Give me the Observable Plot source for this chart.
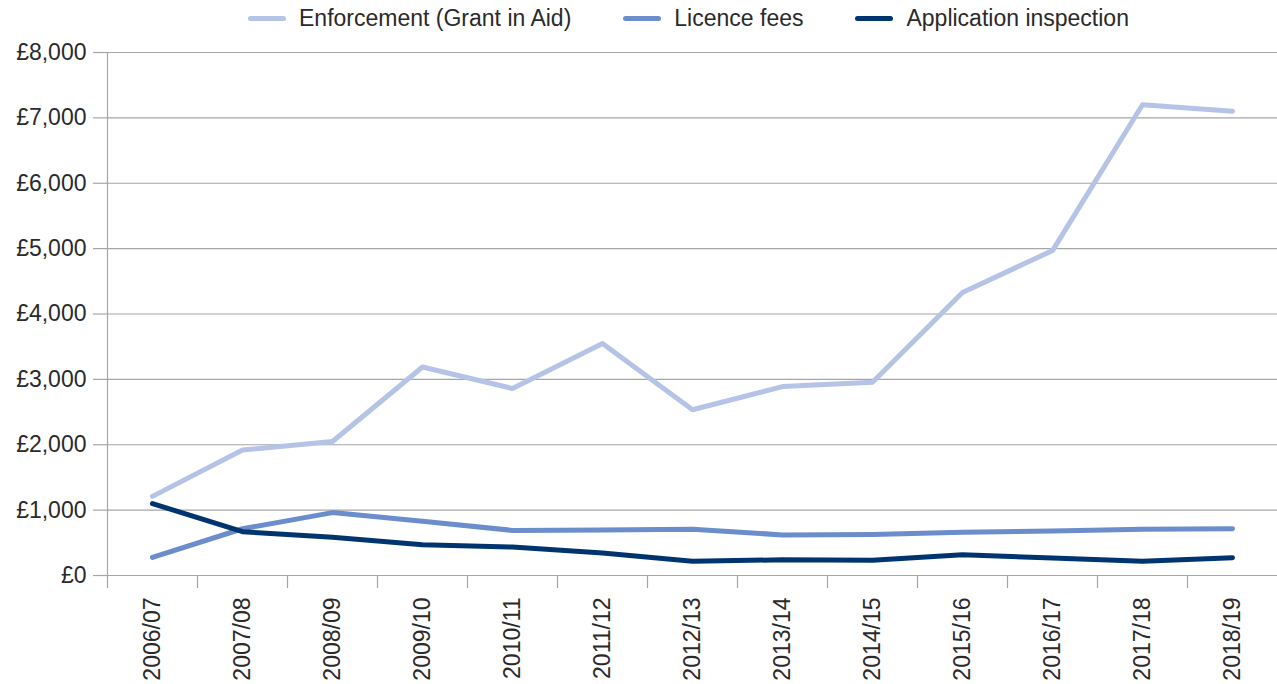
<!DOCTYPE html>
<html>
<head>
<meta charset="utf-8">
<script src="https://cdn.jsdelivr.net/npm/d3@7"></script>
<script src="https://cdn.jsdelivr.net/npm/@observablehq/plot@0.6"></script>
<style>
  body { margin: 0; background: #fff; font-family: "Liberation Sans", Arial, sans-serif; }
  #legend { display: flex; justify-content: center; align-items: center; height: 36px; padding-left: 100px; gap: 52px; font-size: 23px; color: #2a2a2a; }
  .item { display: flex; align-items: center; gap: 13px; white-space: nowrap; }
  .swatch { width: 38px; height: 5px; border-radius: 3px; }
</style>
</head>
<body>
<div id="legend"></div>
<div id="chart"></div>
<script>
// Financial years on the x axis
const years = ["2006/07", "2007/08", "2008/09", "2009/10", "2010/11", "2011/12", "2012/13",
               "2013/14", "2014/15", "2015/16", "2016/17", "2017/18", "2018/19"];

// Funding by source (£)
const enforcement = [1210, 1920, 2050, 3190, 2860, 3550, 2535, 2890, 2955, 4330, 4970, 7200, 7100];
const licenceFees = [277, 715, 962, 830, 690, 697, 707, 621, 628, 662, 682, 707, 717];
const applicationInspection = [1100, 670, 585, 470, 435, 344, 217, 240, 232, 318, 268, 217, 272];

const seriesNames = ["Enforcement (Grant in Aid)", "Licence fees", "Application inspection"];
const seriesColors = ["#b4c3e6", "#6b8dcb", "#00346f"];
const seriesValues = [enforcement, licenceFees, applicationInspection];

// Y axis ticks
const yTicks = [0, 1000, 2000, 3000, 4000, 5000, 6000, 7000, 8000];

const rows = seriesNames.flatMap((name, i) =>
  years.map((year, j) => ({series: name, year, value: seriesValues[i][j]})));

// Legend
const legend = document.getElementById("legend");
seriesNames.forEach((name, i) => {
  const item = document.createElement("div");
  item.className = "item";
  const sw = document.createElement("div");
  sw.className = "swatch";
  sw.style.background = seriesColors[i];
  const label = document.createElement("span");
  label.textContent = name;
  item.append(sw, label);
  legend.append(item);
});

const width = 1277, height = 648;
const marginLeft = 107, marginRight = 0;
const step = (width - marginLeft - marginRight) / years.length;
const gridColor = "#a6a6a6";

const chart = Plot.plot({
  width, height,
  marginLeft, marginRight, marginTop: 16, marginBottom: 109,
  style: {fontFamily: "Liberation Sans, Arial, sans-serif", fontSize: "23px", color: "#2a2a2a", background: "#fff"},
  x: {type: "band", domain: years, padding: 0, label: null},
  y: {domain: [0, 8000], label: null},
  color: {domain: seriesNames, range: seriesColors},
  marks: [
    Plot.gridY(yTicks, {stroke: gridColor, strokeOpacity: 1, strokeWidth: 1.2}),
    Plot.axisY(yTicks, {tickSize: 14, tickPadding: 7, stroke: gridColor, strokeWidth: 1.2,
      tickFormat: d => "£" + d3.format(",")(d), label: null}),
    Plot.frame({anchor: "left", stroke: gridColor, strokeWidth: 1.2}),
    // tick marks sit on the boundaries between years
    Plot.axisX({tickSize: 13, dx: -step / 2, stroke: gridColor, strokeWidth: 1.2, tickFormat: () => "", label: null}),
    Plot.axisX({tickSize: 0, tickPadding: 22, tickRotate: -90, label: null}),
    Plot.line(rows, {x: "year", y: "value", z: "series", stroke: "series", strokeWidth: 5,
      strokeLinejoin: "round", strokeLinecap: "round"})
  ]
});
document.getElementById("chart").append(chart);
</script>
</body>
</html>
